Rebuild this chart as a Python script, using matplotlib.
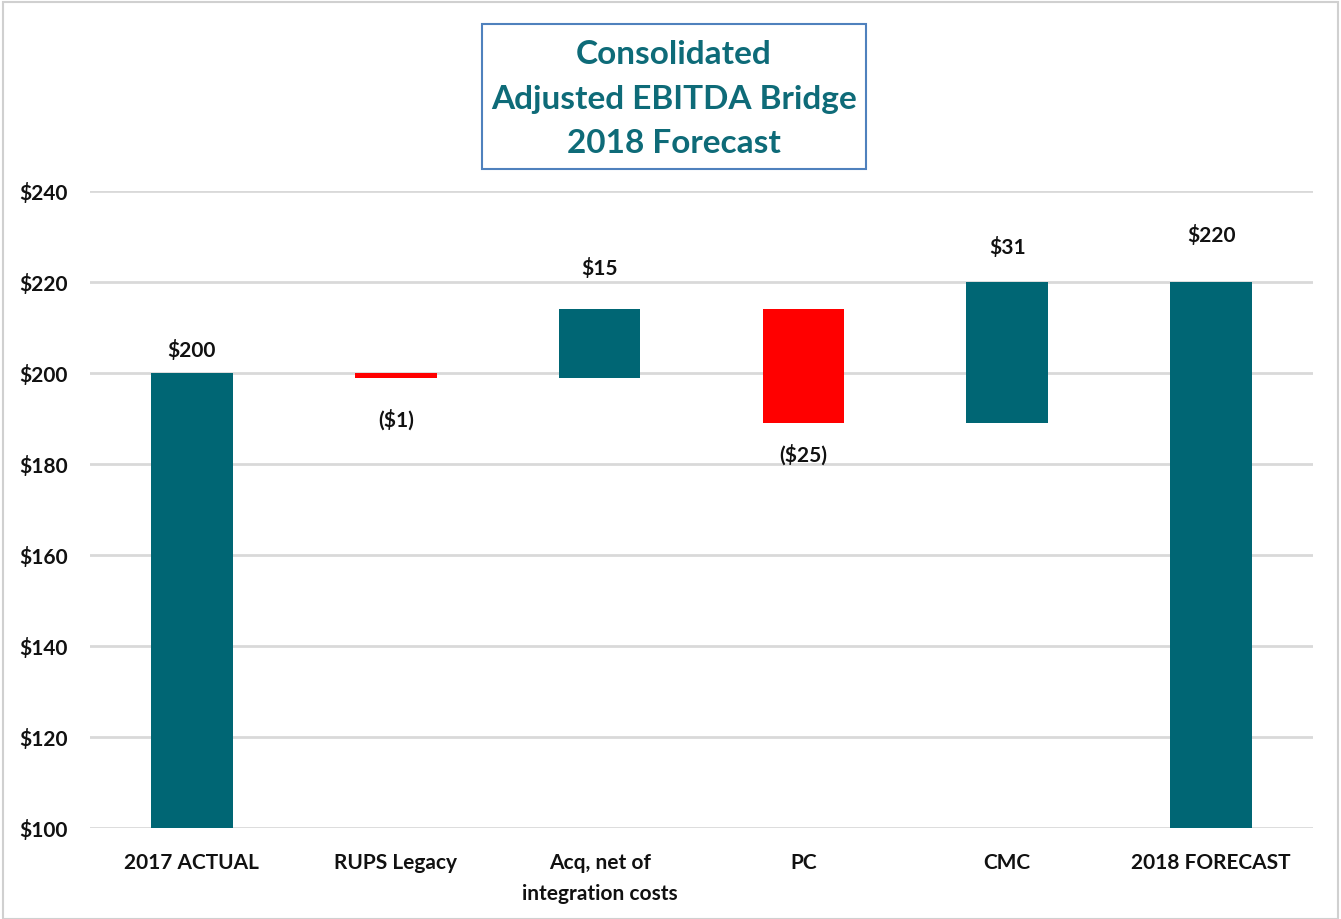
import matplotlib
matplotlib.use("Agg")
import matplotlib.pyplot as plt
from matplotlib.patches import Rectangle

categories = ["2017 ACTUAL", "RUPS Legacy", "Acq, net of\nintegration costs", "PC", "CMC", "2018 FORECAST"]
changes = [200, -1, 15, -25, 31, 220]
is_total = [True, False, False, False, False, True]
label_texts = ["$200", "($1)", "$15", "($25)", "$31", "$220"]
y_ticks = [100, 120, 140, 160, 180, 200, 220, 240]
y_tick_labels = ["$100", "$120", "$140", "$160", "$180", "$200", "$220", "$240"]
title_text = "Consolidated\nAdjusted EBITDA Bridge\n2018 Forecast"

TEAL = "#006674"
RED = "#FF0000"
FONT = "Lato"
label_offsets_px = [23, 41, 42, 31, 35, 47]

fig = plt.figure(figsize=(13.41, 9.2), dpi=100)
ax = fig.add_axes([90/1341, (920-829)/920, (1313-90)/1341, (829-192)/920])

base = 100
running = 0
bottoms, heights, colors = [], [], []
for c, tot in zip(changes, is_total):
    if tot:
        bottoms.append(base)
        heights.append(c - base)
        colors.append(TEAL)
        running = c
    else:
        start = running
        end = running + c
        bottoms.append(min(start, end))
        heights.append(abs(c))
        colors.append(TEAL if c >= 0 else RED)
        running = end

x = list(range(len(categories)))
ax.bar(x, heights, bottom=bottoms, width=0.4, color=colors, zorder=3)

for i, (b, h, c, t) in enumerate(zip(bottoms, heights, changes, label_texts)):
    off = label_offsets_px[i] * 0.72
    if c >= 0:
        ax.annotate(t, (i, b + h), xytext=(0, off), textcoords="offset points",
                    ha="center", va="center", fontsize=15, fontweight="bold",
                    family=FONT, color="#111111")
    else:
        ax.annotate(t, (i, b), xytext=(0, -off), textcoords="offset points",
                    ha="center", va="center", fontsize=15, fontweight="bold",
                    family=FONT, color="#111111")

ax.set_xlim(-0.5, len(categories) - 0.5)
ax.set_ylim(100, 240)
ax.set_yticks(y_ticks)
ax.set_yticklabels(y_tick_labels, fontsize=15, fontweight="bold", family=FONT, color="#111111")
ax.set_xticks(x)
ax.set_xticklabels(categories, fontsize=15, fontweight="bold", family=FONT, color="#111111",
                   va="top", linespacing=1.7)
ax.tick_params(axis="both", length=0)
ax.tick_params(axis="y", pad=16)
ax.tick_params(axis="x", pad=17)
ax.yaxis.grid(True, color="#D9D9D9", linewidth=2, zorder=0)
ax.set_axisbelow(True)
for s in ax.spines.values():
    s.set_visible(False)

# title box
fig.patches.append(Rectangle((482/1341, (920-170)/920), (866-482)/1341, 145/920,
                             transform=fig.transFigure, fill=False,
                             edgecolor="#4F81BD", linewidth=1.5))
fig.text(674/1341, (920-99)/920, title_text, ha="center", va="center",
         fontsize=24, fontweight="bold", family=FONT, color="#0E6B78", linespacing=1.65)

# figure border
fig.patches.append(Rectangle((0.002, 0.0), 0.996, 0.997, transform=fig.transFigure,
                             fill=False, edgecolor="#D0D0D0", linewidth=1.5))

fig.savefig("out.png", dpi=100)
